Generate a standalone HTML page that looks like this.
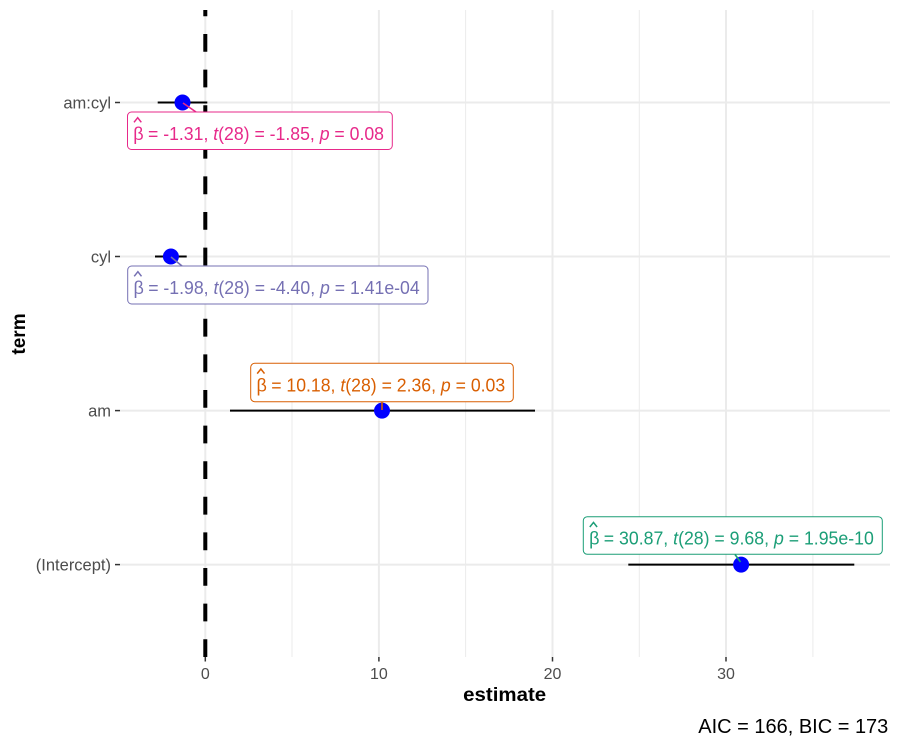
<!DOCTYPE html>
<html><head><meta charset="utf-8"><style>
html,body{margin:0;padding:0;background:#fff;}
svg{display:block;}
text{font-family:"Liberation Sans",Arial,sans-serif;}
</style></head><body>
<svg width="900" height="750" viewBox="0 0 900 750" xmlns="http://www.w3.org/2000/svg">
<rect width="900" height="750" fill="#fff"/>
<!-- minor vertical grid -->
<g stroke="#EBEBEB" stroke-width="1">
<line x1="292" y1="10" x2="292" y2="657"/>
<line x1="465.6" y1="10" x2="465.6" y2="657"/>
<line x1="639.3" y1="10" x2="639.3" y2="657"/>
<line x1="812.9" y1="10" x2="812.9" y2="657"/>
</g>
<!-- major grid -->
<g stroke="#EBEBEB" stroke-width="2">
<line x1="205.3" y1="10" x2="205.3" y2="657"/>
<line x1="378.9" y1="10" x2="378.9" y2="657"/>
<line x1="552.5" y1="10" x2="552.5" y2="657"/>
<line x1="726" y1="10" x2="726" y2="657"/>
<line x1="120" y1="102.5" x2="890" y2="102.5"/>
<line x1="120" y1="256.5" x2="890" y2="256.5"/>
<line x1="120" y1="410.6" x2="890" y2="410.6"/>
<line x1="120" y1="564.6" x2="890" y2="564.6"/>
</g>
<!-- zero line -->
<line x1="205.3" y1="657" x2="205.3" y2="10" stroke="#000" stroke-width="4" stroke-dasharray="17.8 17.8"/>
<!-- error bars -->
<g stroke="#000" stroke-width="2">
<line x1="157.7" y1="102.5" x2="207.3" y2="102.5"/>
<line x1="155" y1="256.5" x2="186.7" y2="256.5"/>
<line x1="230" y1="410.6" x2="535" y2="410.6"/>
<line x1="628.3" y1="564.6" x2="854.3" y2="564.6"/>
</g>
<!-- points -->
<g fill="#0000FF">
<circle cx="182.5" cy="102.5" r="8"/>
<circle cx="170.9" cy="256.5" r="8"/>
<circle cx="382" cy="410.6" r="8"/>
<circle cx="741.1" cy="564.6" r="8"/>
</g>
<!-- segments -->
<line x1="183" y1="103" x2="196" y2="112" stroke="#E7298A" stroke-width="1.6"/>
<line x1="171" y1="257" x2="182" y2="266" stroke="#7570B3" stroke-width="1.6"/>
<line x1="382" y1="401.7" x2="382" y2="410" stroke="#D95F02" stroke-width="1.6"/>
<line x1="735" y1="554.5" x2="740.5" y2="562" stroke="#1B9E77" stroke-width="1.6"/>

<!-- label am:cyl -->
<g>
<rect x="127.5" y="112" width="264.8" height="37.5" rx="4" fill="#fff" stroke="#E7298A" stroke-width="1"/>
<polyline points="134,122.3 137.7,117.7 141.3,122.3" fill="none" stroke="#E7298A" stroke-width="1.5"/>
<text x="133.3" y="140" font-size="18" fill="#E7298A">β</text>
<text x="148" y="140" font-size="18" fill="#E7298A" textLength="236" lengthAdjust="spacingAndGlyphs">= -1.31, <tspan font-style="italic">t</tspan>(28) = -1.85, <tspan font-style="italic">p</tspan> = 0.08</text>
</g>
<!-- label cyl -->
<g>
<rect x="127.7" y="266" width="300.3" height="38" rx="4" fill="#fff" stroke="#7570B3" stroke-width="1"/>
<polyline points="134.2,276.3 137.9,271.7 141.5,276.3" fill="none" stroke="#7570B3" stroke-width="1.5"/>
<text x="133.5" y="294" font-size="18" fill="#7570B3">β</text>
<text x="148.2" y="294" font-size="18" fill="#7570B3" textLength="271.5" lengthAdjust="spacingAndGlyphs">= -1.98, <tspan font-style="italic">t</tspan>(28) = -4.40, <tspan font-style="italic">p</tspan> = 1.41e-04</text>
</g>
<!-- label am -->
<g>
<rect x="250.7" y="363.3" width="262.6" height="38.4" rx="4" fill="#fff" stroke="#D95F02" stroke-width="1"/>
<polyline points="257.2,373.6 260.9,369 264.5,373.6" fill="none" stroke="#D95F02" stroke-width="1.5"/>
<text x="256.5" y="391.3" font-size="18" fill="#D95F02">β</text>
<text x="271.2" y="391.3" font-size="18" fill="#D95F02" textLength="234" lengthAdjust="spacingAndGlyphs">= 10.18, <tspan font-style="italic">t</tspan>(28) = 2.36, <tspan font-style="italic">p</tspan> = 0.03</text>
</g>
<!-- label intercept -->
<g>
<rect x="583.3" y="516.7" width="299" height="37.6" rx="4" fill="#fff" stroke="#1B9E77" stroke-width="1"/>
<polyline points="589.8,527 593.5,522.4 597.1,527" fill="none" stroke="#1B9E77" stroke-width="1.5"/>
<text x="589.1" y="544.7" font-size="18" fill="#1B9E77">β</text>
<text x="603.8" y="544.7" font-size="18" fill="#1B9E77" textLength="270" lengthAdjust="spacingAndGlyphs">= 30.87, <tspan font-style="italic">t</tspan>(28) = 9.68, <tspan font-style="italic">p</tspan> = 1.95e-10</text>
</g>

<!-- y axis ticks -->
<g stroke="#333" stroke-width="1.5">
<line x1="115" y1="102.5" x2="120" y2="102.5"/>
<line x1="115" y1="256.5" x2="120" y2="256.5"/>
<line x1="115" y1="410.6" x2="120" y2="410.6"/>
<line x1="115" y1="564.6" x2="120" y2="564.6"/>
</g>
<g font-size="16.5" fill="#4D4D4D" text-anchor="end">
<text x="111" y="108.5">am:cyl</text>
<text x="111" y="262.5">cyl</text>
<text x="111" y="416.5">am</text>
<text x="111" y="570.5">(Intercept)</text>
</g>
<!-- x axis ticks -->
<g stroke="#333" stroke-width="1.5">
<line x1="205.3" y1="657" x2="205.3" y2="661.5"/>
<line x1="378.9" y1="657" x2="378.9" y2="661.5"/>
<line x1="552.5" y1="657" x2="552.5" y2="661.5"/>
<line x1="726" y1="657" x2="726" y2="661.5"/>
</g>
<g font-size="16" fill="#4D4D4D" text-anchor="middle">
<text x="205.3" y="679">0</text>
<text x="378.9" y="679">10</text>
<text x="552.5" y="679">20</text>
<text x="726" y="679">30</text>
</g>
<!-- axis titles -->
<text x="504.7" y="701" font-size="19" font-weight="bold" text-anchor="middle" textLength="83" lengthAdjust="spacingAndGlyphs">estimate</text>
<text transform="translate(25,334) rotate(-90)" font-size="19" font-weight="bold" text-anchor="middle">term</text>
<!-- caption -->
<text x="888.3" y="733" font-size="20" text-anchor="end" textLength="190" lengthAdjust="spacingAndGlyphs">AIC = 166, BIC = 173</text>
</svg>
</body></html>
